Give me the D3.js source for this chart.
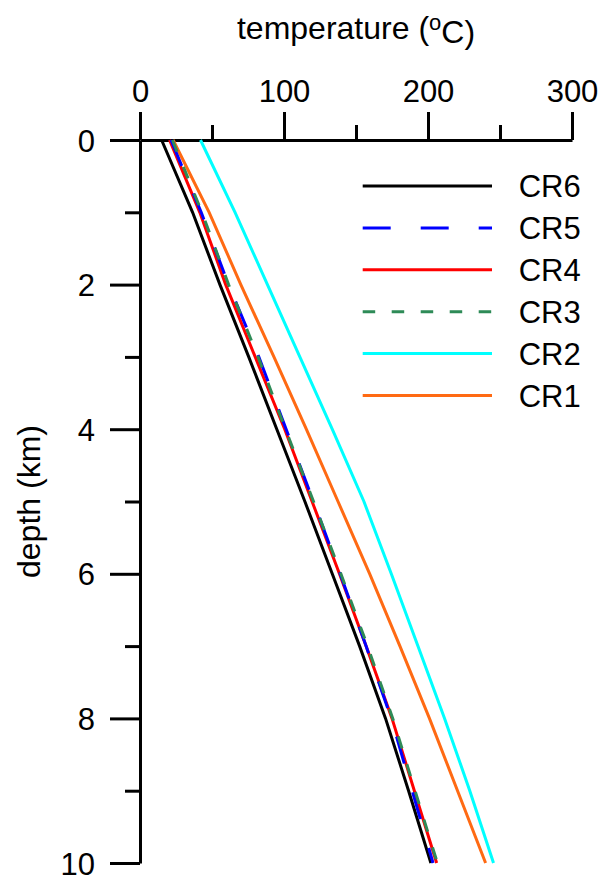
<!DOCTYPE html>
<html lang="en">

<head>
  <title>Temperature profiles</title>
  <meta http-equiv="content-type" content="text/html; charset=utf-8" />
  <script src="https://cdn.jsdelivr.net/npm/d3@7"></script>

  <style>
    body {
      margin: 0px;
      background: #fff;
      font-family: "Liberation Sans", Arial, sans-serif;
    }

    path.domain {
      stroke-width: 3px;
    }

    .tick line {
      stroke-width: 3px;
    }

    .tick text {
      font-size: 31px;
      fill: #000;
    }
  </style>
</head>

<body>
  <div id="graphic"></div>

  <script>
    // depth (km) at which each curve was read
    var depths = [0, 1, 2, 3, 4, 5, 6, 7, 8, 9, 10];

    // temperature (oC) per case
    var cr6 = [15, 36.5, 55.5, 75.5, 95, 114.5, 133.5, 152.5, 170.5, 186.5, 202];
    var cr5 = [21.5, 42.5, 61.5, 82.5, 101.5, 120.5, 139, 157, 174.5, 189, 203.5];
    var cr4 = [20.5, 41.5, 59.5, 80, 100.5, 119.5, 138.5, 157, 175, 190.5, 206];
    var cr3 = [22.5, 43, 61.5, 82, 101, 120.5, 139.5, 158, 175.5, 191, 206.5];
    var cr2 = [42, 66, 88.5, 111, 133.5, 155.5, 174.5, 193, 211.5, 229, 245.5];
    var cr1 = [23, 48, 70, 93, 115.5, 137.5, 159.5, 180.5, 201, 220.5, 240];

    var seriesNames = ["CR6", "CR5", "CR4", "CR3", "CR2", "CR1"];
    var xTicks = [0, 100, 200, 300];
    var xMinorTicks = [50, 150, 250];
    var yTicks = [0, 2, 4, 6, 8, 10];
    var yMinorTicks = [1, 3, 5, 7, 9];

    var styles = {
      CR6: { colour: "#000000", dash: null },
      CR5: { colour: "#0000ff", dash: "28,30" },
      CR4: { colour: "#ff0000", dash: null },
      CR3: { colour: "#2e8b57", dash: "12.5,16.5" },
      CR2: { colour: "#00ffff", dash: null },
      CR1: { colour: "#ff6a13", dash: null }
    };

    var values = { CR6: cr6, CR5: cr5, CR4: cr4, CR3: cr3, CR2: cr2, CR1: cr1 };
    var drawOrder = ["CR1", "CR2", "CR6", "CR4", "CR5", "CR3"];

    var width = 601, height = 879;
    var margin = { top: 140, right: 29, bottom: 16, left: 140 };
    var chart_width = width - margin.left - margin.right;
    var chart_height = height - margin.top - margin.bottom;

    var svg = d3.select("#graphic")
      .append("svg")
      .attr("width", width)
      .attr("height", height)
      .append("g")
      .attr("transform", "translate(" + margin.left + "," + margin.top + ")");

    var x = d3.scaleLinear().domain([0, 300]).range([0, chart_width]);
    var y = d3.scaleLinear().domain([0, 10]).range([0, chart_height]);

    // minor ticks first, so the major ones sit on top
    svg.append("g")
      .attr("class", "x minor")
      .call(d3.axisTop(x).tickValues(xMinorTicks).tickSize(15).tickFormat(""))
      .select(".domain").remove();

    svg.append("g")
      .attr("class", "y minor")
      .call(d3.axisLeft(y).tickValues(yMinorTicks).tickSize(15).tickFormat(""))
      .select(".domain").remove();

    svg.append("g")
      .attr("class", "x axis")
      .call(d3.axisTop(x).tickValues(xTicks).tickSize(28).tickSizeOuter(0).tickPadding(10));

    svg.append("g")
      .attr("class", "y axis")
      .call(d3.axisLeft(y).tickValues(yTicks).tickSize(30).tickSizeOuter(0).tickPadding(15));

    svg.selectAll(".y.axis .tick text").attr("dy", "0.36em");

    var line = d3.line()
      .x(function(d) { return x(d.t); })
      .y(function(d) { return y(d.z); });

    drawOrder.forEach(function(name) {
      var pts = depths.map(function(z, i) { return { z: z, t: values[name][i] }; });
      svg.append("path")
        .datum(pts)
        .attr("fill", "none")
        .attr("stroke", styles[name].colour)
        .attr("stroke-width", 3)
        .attr("stroke-dasharray", styles[name].dash)
        .attr("d", line);
    });

    // legend
    var legend = svg.append("g")
      .attr("transform", "translate(" + (362.7 - margin.left) + "," + (186 - margin.top) + ")");

    var rows = legend.selectAll("g.row")
      .data(seriesNames)
      .enter().append("g")
      .attr("class", "row")
      .attr("transform", function(d, i) { return "translate(0," + (i * 41.9) + ")"; });

    rows.append("line")
      .attr("x1", 0)
      .attr("x2", 129.3)
      .attr("stroke", function(d) { return styles[d].colour; })
      .attr("stroke-width", 3)
      .attr("stroke-dasharray", function(d) { return styles[d].dash; });

    rows.append("text")
      .attr("x", 156)
      .attr("dy", "0.36em")
      .style("font-size", "31px")
      .style("fill", "#000")
      .text(function(d) { return d; });

    // axis titles
    var xTitle = svg.append("text")
      .attr("x", chart_width / 2)
      .attr("y", 39 - margin.top)
      .attr("text-anchor", "middle")
      .style("font-size", "32px")
      .style("fill", "#000");
    xTitle.append("tspan").text("temperature (");
    xTitle.append("tspan").attr("dy", "-0.42em").style("font-size", "22px").text("o");
    xTitle.append("tspan").attr("dy", "0.42em").text("C)");

    svg.append("text")
      .attr("transform", "translate(" + (40 - margin.left) + "," + (chart_height / 2) + ") rotate(-90)")
      .attr("text-anchor", "middle")
      .style("font-size", "32px")
      .style("fill", "#000")
      .text("depth (km)");
  </script>
</body>

</html>
